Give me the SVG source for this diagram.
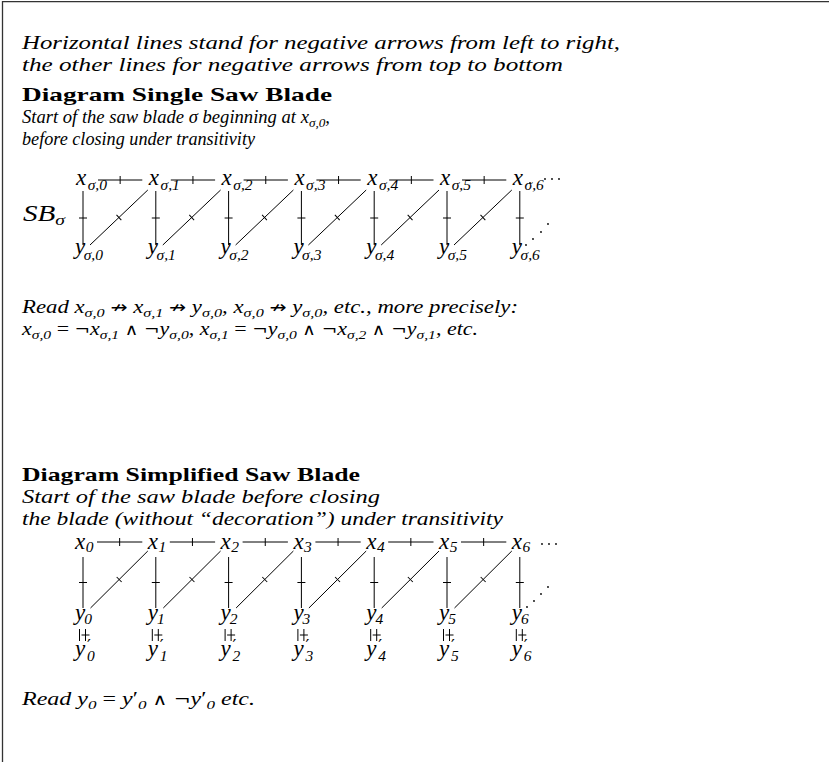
<svg xmlns="http://www.w3.org/2000/svg" width="829" height="762" viewBox="0 0 829 762">
<style>
.t{font-family:"Liberation Serif","DejaVu Serif",serif;font-style:italic;font-size:19px;fill:#000}
.b{font-family:"Liberation Serif","DejaVu Serif",serif;font-weight:bold;font-size:19.5px;fill:#000}
.m{font-family:"Liberation Serif","DejaVu Serif",serif;font-style:italic;font-size:23px;fill:#000}
.sb{font-size:13.5px}
.ms{font-size:15.5px}
.up{font-style:normal}
.op{font-family:"DejaVu Serif","DejaVu Sans",serif;font-style:normal;font-weight:normal;font-size:16px}
.ar{font-family:"DejaVu Sans",sans-serif;font-style:normal;font-weight:normal;font-size:17px}
.pr{font-family:"DejaVu Serif",serif;font-style:normal;font-size:17px}
.c{stroke:#000;stroke-width:1;fill:none}
.neg{marker-mid:url(#tick)}
.negd{marker-mid:url(#tickd)}
.dot{fill:#000}
.frame{stroke:#333;stroke-width:1.3;fill:none}
</style>
<defs>
<marker id="tick" viewBox="-5 -5 10 10" markerWidth="10" markerHeight="10" refX="0" refY="0" orient="auto" markerUnits="userSpaceOnUse" overflow="visible"><path d="M0,-4V4" stroke="#000" stroke-width="1"/></marker>
<marker id="tickd" viewBox="-5 -5 10 10" markerWidth="10" markerHeight="10" refX="0" refY="0" orient="auto" markerUnits="userSpaceOnUse" overflow="visible"><path d="M0,-3.5V3.5" stroke="#000" stroke-width="1"/></marker>
</defs>
<rect width="829" height="762" fill="#fff"/>
<path class="frame" d="M2.5,762V1.7H829"/>

<g id="texts">
<text class="t" x="22" y="49" textLength="598" lengthAdjust="spacingAndGlyphs">Horizontal lines stand for negative arrows from left to right,</text>
<text class="t" x="22" y="71" textLength="541" lengthAdjust="spacingAndGlyphs">the other lines for negative arrows from top to bottom</text>
<text class="b" x="22" y="101" textLength="310" lengthAdjust="spacingAndGlyphs">Diagram Single Saw Blade</text>
<text class="t" x="22" y="123" textLength="308" lengthAdjust="spacingAndGlyphs">Start of the saw blade σ beginning at x<tspan class="sb" dy="4">σ,0</tspan><tspan dy="-4">,</tspan></text>
<text class="t" x="22" y="145" textLength="233" lengthAdjust="spacingAndGlyphs">before closing under transitivity</text>
<text class="t" x="22" y="313" textLength="496" lengthAdjust="spacingAndGlyphs">Read x<tspan class="sb" dy="4">σ,0</tspan><tspan dy="-4"> </tspan><tspan class="ar">↛</tspan> x<tspan class="sb" dy="4">σ,1</tspan><tspan dy="-4"> </tspan><tspan class="ar">↛</tspan> y<tspan class="sb" dy="4">σ,0</tspan><tspan dy="-4">, x</tspan><tspan class="sb" dy="4">σ,0</tspan><tspan dy="-4"> </tspan><tspan class="ar">↛</tspan> y<tspan class="sb" dy="4">σ,0</tspan><tspan dy="-4">, etc., more precisely:</tspan></text>
<text class="t" x="22" y="335" textLength="456" lengthAdjust="spacingAndGlyphs">x<tspan class="sb" dy="4">σ,0</tspan><tspan dy="-4" class="up"> = </tspan><tspan class="op">¬</tspan>x<tspan class="sb" dy="4">σ,1</tspan><tspan dy="-4"> </tspan><tspan class="op">∧ ¬</tspan>y<tspan class="sb" dy="4">σ,0</tspan><tspan dy="-4">, x</tspan><tspan class="sb" dy="4">σ,1</tspan><tspan dy="-4" class="up"> = </tspan><tspan class="op">¬</tspan>y<tspan class="sb" dy="4">σ,0</tspan><tspan dy="-4"> </tspan><tspan class="op">∧ ¬</tspan>x<tspan class="sb" dy="4">σ,2</tspan><tspan dy="-4"> </tspan><tspan class="op">∧ ¬</tspan>y<tspan class="sb" dy="4">σ,1</tspan><tspan dy="-4">, etc.</tspan></text>
<text class="b" x="22" y="481" textLength="338" lengthAdjust="spacingAndGlyphs">Diagram Simplified Saw Blade</text>
<text class="t" x="22" y="503" textLength="358" lengthAdjust="spacingAndGlyphs">Start of the saw blade before closing</text>
<text class="t" x="22" y="525" textLength="481" lengthAdjust="spacingAndGlyphs">the blade (without “decoration”) under transitivity</text>
<text class="t" x="22" y="705" textLength="233" lengthAdjust="spacingAndGlyphs">Read y<tspan class="sb" dy="4">0</tspan><tspan dy="-4" class="up"> = </tspan>y<tspan class="up">′</tspan><tspan class="sb" dy="4">0</tspan><tspan dy="-4"> </tspan><tspan class="op">∧ ¬</tspan>y<tspan class="up">′</tspan><tspan class="sb" dy="4">0</tspan><tspan dy="-4"> etc.</tspan></text>
</g>

<g id="sb-label"><text class="m" x="23" y="221" textLength="42" lengthAdjust="spacingAndGlyphs">SB<tspan class="ms" dy="4">σ</tspan></text></g>

<g id="d1-nodes">
<g id="xs0"><text class="m" x="76" y="185">x<tspan class="ms" dx="1.5" dy="5">σ,0</tspan></text></g>
<g id="xs1"><text class="m" x="148.8" y="185">x<tspan class="ms" dx="1.5" dy="5">σ,1</tspan></text></g>
<g id="xs2"><text class="m" x="221.6" y="185">x<tspan class="ms" dx="1.5" dy="5">σ,2</tspan></text></g>
<g id="xs3"><text class="m" x="294.4" y="185">x<tspan class="ms" dx="1.5" dy="5">σ,3</tspan></text></g>
<g id="xs4"><text class="m" x="367.2" y="185">x<tspan class="ms" dx="1.5" dy="5">σ,4</tspan></text></g>
<g id="xs5"><text class="m" x="440" y="185">x<tspan class="ms" dx="1.5" dy="5">σ,5</tspan></text></g>
<g id="xs6"><text class="m" x="512.8" y="185">x<tspan class="ms" dx="1.5" dy="5">σ,6</tspan></text></g>
<g id="ys0"><text class="m" x="75" y="254">y<tspan class="ms" dx="-1.5" dy="6">σ,0</tspan></text></g>
<g id="ys1"><text class="m" x="147.8" y="254">y<tspan class="ms" dx="-1.5" dy="6">σ,1</tspan></text></g>
<g id="ys2"><text class="m" x="220.6" y="254">y<tspan class="ms" dx="-1.5" dy="6">σ,2</tspan></text></g>
<g id="ys3"><text class="m" x="293.4" y="254">y<tspan class="ms" dx="-1.5" dy="6">σ,3</tspan></text></g>
<g id="ys4"><text class="m" x="366.2" y="254">y<tspan class="ms" dx="-1.5" dy="6">σ,4</tspan></text></g>
<g id="ys5"><text class="m" x="439" y="254">y<tspan class="ms" dx="-1.5" dy="6">σ,5</tspan></text></g>
<g id="ys6"><text class="m" x="511.8" y="254">y<tspan class="ms" dx="-1.5" dy="6">σ,6</tspan></text></g>
</g>

<g id="d1-connectors" class="c">
<path class="neg" d="M98,180H120.15H142.3"/>
<path class="neg" d="M170.8,180H192.95H215.1"/>
<path class="neg" d="M243.6,180H265.75H287.9"/>
<path class="neg" d="M316.4,180H338.55H360.7"/>
<path class="neg" d="M389.2,180H411.35H433.5"/>
<path class="neg" d="M462,180H484.15H506.3"/>
<path class="neg" d="M83,191V218V245"/>
<path class="neg" d="M155.8,191V218V245"/>
<path class="neg" d="M228.6,191V218V245"/>
<path class="neg" d="M301.4,191V218V245"/>
<path class="neg" d="M374.2,191V218V245"/>
<path class="neg" d="M447,191V218V245"/>
<path class="neg" d="M519.8,191V218V245"/>
<path class="negd" d="M90,245L118.9,217.5L147.8,190"/>
<path class="negd" d="M162.8,245L191.7,217.5L220.6,190"/>
<path class="negd" d="M235.6,245L264.5,217.5L293.4,190"/>
<path class="negd" d="M308.4,245L337.3,217.5L366.2,190"/>
<path class="negd" d="M381.2,245L410.1,217.5L439,190"/>
<path class="negd" d="M454,245L482.9,217.5L511.8,190"/>
</g>
<g id="d1-dots" class="dot">
<circle cx="530" cy="183" r="0.9"/><circle cx="545" cy="179" r="0.9"/><circle cx="552" cy="179" r="0.9"/><circle cx="559" cy="179" r="0.9"/>
<circle cx="526" cy="245" r="0.9"/><circle cx="533" cy="239" r="0.9"/><circle cx="541" cy="232" r="0.9"/><circle cx="548" cy="224" r="0.9"/>
</g>

<g id="d2-nodes">
<g id="x0"><text class="m" x="75" y="549">x<tspan class="ms" dx="0.5" dy="3">0</tspan></text></g>
<g id="x1"><text class="m" x="147.8" y="549">x<tspan class="ms" dx="0.5" dy="3">1</tspan></text></g>
<g id="x2"><text class="m" x="220.6" y="549">x<tspan class="ms" dx="0.5" dy="3">2</tspan></text></g>
<g id="x3"><text class="m" x="293.4" y="549">x<tspan class="ms" dx="0.5" dy="3">3</tspan></text></g>
<g id="x4"><text class="m" x="366.2" y="549">x<tspan class="ms" dx="0.5" dy="3">4</tspan></text></g>
<g id="x5"><text class="m" x="439" y="549">x<tspan class="ms" dx="0.5" dy="3">5</tspan></text></g>
<g id="x6"><text class="m" x="511.8" y="549">x<tspan class="ms" dx="0.5" dy="3">6</tspan></text></g>
<g id="y0"><text class="m" x="75" y="620">y<tspan class="ms" dx="-1" dy="4">0</tspan></text></g>
<g id="y1"><text class="m" x="147.8" y="620">y<tspan class="ms" dx="-1" dy="4">1</tspan></text></g>
<g id="y2"><text class="m" x="220.6" y="620">y<tspan class="ms" dx="-1" dy="4">2</tspan></text></g>
<g id="y3"><text class="m" x="293.4" y="620">y<tspan class="ms" dx="-1" dy="4">3</tspan></text></g>
<g id="y4"><text class="m" x="366.2" y="620">y<tspan class="ms" dx="-1" dy="4">4</tspan></text></g>
<g id="y5"><text class="m" x="439" y="620">y<tspan class="ms" dx="-1" dy="4">5</tspan></text></g>
<g id="y6"><text class="m" x="511.8" y="620">y<tspan class="ms" dx="-1" dy="4">6</tspan></text></g>
<g id="yp0"><text class="m" x="75" y="656">y<tspan class="pr" x="87" y="651">′</tspan><tspan class="ms" x="87" y="661">0</tspan></text></g>
<g id="yp1"><text class="m" x="147.8" y="656">y<tspan class="pr" x="159.8" y="651">′</tspan><tspan class="ms" x="159.8" y="661">1</tspan></text></g>
<g id="yp2"><text class="m" x="220.6" y="656">y<tspan class="pr" x="232.6" y="651">′</tspan><tspan class="ms" x="232.6" y="661">2</tspan></text></g>
<g id="yp3"><text class="m" x="293.4" y="656">y<tspan class="pr" x="305.4" y="651">′</tspan><tspan class="ms" x="305.4" y="661">3</tspan></text></g>
<g id="yp4"><text class="m" x="366.2" y="656">y<tspan class="pr" x="378.2" y="651">′</tspan><tspan class="ms" x="378.2" y="661">4</tspan></text></g>
<g id="yp5"><text class="m" x="439" y="656">y<tspan class="pr" x="451" y="651">′</tspan><tspan class="ms" x="451" y="661">5</tspan></text></g>
<g id="yp6"><text class="m" x="511.8" y="656">y<tspan class="pr" x="523.8" y="651">′</tspan><tspan class="ms" x="523.8" y="661">6</tspan></text></g>
</g>

<g id="d2-connectors" class="c">
<path class="neg" d="M97,542H119.65H142.3"/>
<path class="neg" d="M169.8,542H192.45H215.1"/>
<path class="neg" d="M242.6,542H265.25H287.9"/>
<path class="neg" d="M315.4,542H338.05H360.7"/>
<path class="neg" d="M388.2,542H410.85H433.5"/>
<path class="neg" d="M461,542H483.65H506.3"/>
<path class="neg" d="M83,557V582.5V608"/>
<path class="neg" d="M155.8,557V582.5V608"/>
<path class="neg" d="M228.6,557V582.5V608"/>
<path class="neg" d="M301.4,557V582.5V608"/>
<path class="neg" d="M374.2,557V582.5V608"/>
<path class="neg" d="M447,557V582.5V608"/>
<path class="neg" d="M519.8,557V582.5V608"/>
<path class="negd" d="M90.5,608L119.15,579.5L147.8,551"/>
<path class="negd" d="M163.3,608L191.95,579.5L220.6,551"/>
<path class="negd" d="M236.1,608L264.75,579.5L293.4,551"/>
<path class="negd" d="M308.9,608L337.55,579.5L366.2,551"/>
<path class="negd" d="M381.7,608L410.35,579.5L439,551"/>
<path class="negd" d="M454.5,608L483.15,579.5L511.8,551"/>
<path d="M79.5,629V641"/><path class="neg" d="M85.5,629V635V641"/>
<path d="M152.3,629V641"/><path class="neg" d="M158.3,629V635V641"/>
<path d="M225.1,629V641"/><path class="neg" d="M231.1,629V635V641"/>
<path d="M297.9,629V641"/><path class="neg" d="M303.9,629V635V641"/>
<path d="M370.7,629V641"/><path class="neg" d="M376.7,629V635V641"/>
<path d="M443.5,629V641"/><path class="neg" d="M449.5,629V635V641"/>
<path d="M516.3,629V641"/><path class="neg" d="M522.3,629V635V641"/>
</g>
<g id="d2-dots" class="dot">
<circle cx="542" cy="544" r="0.9"/><circle cx="549" cy="544" r="0.9"/><circle cx="556" cy="544" r="0.9"/>
<circle cx="527" cy="607" r="0.9"/><circle cx="534" cy="601" r="0.9"/><circle cx="541" cy="594" r="0.9"/><circle cx="548" cy="587" r="0.9"/>
</g>
</svg>
